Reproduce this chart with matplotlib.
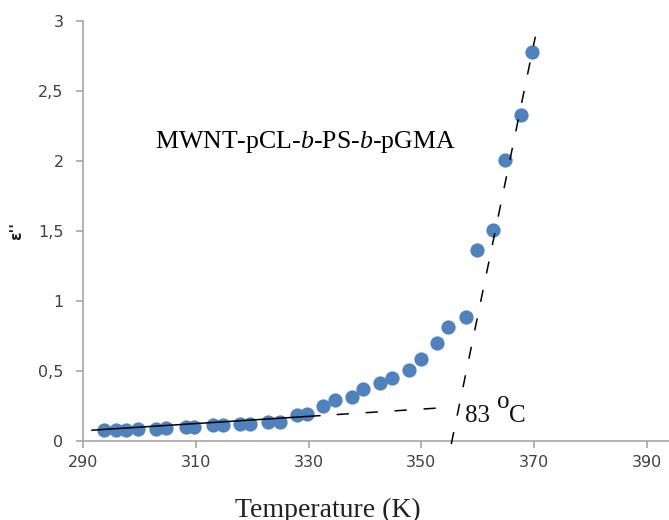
import matplotlib
matplotlib.use("Agg")
import matplotlib.pyplot as plt

plt.rcParams["mathtext.fontset"] = "custom"
plt.rcParams["mathtext.rm"] = "Liberation Serif"
plt.rcParams["mathtext.it"] = "Liberation Serif:italic"

# Dielectric loss vs temperature
temperature = [293.7, 295.8, 297.6, 299.7, 302.9, 304.7, 308.3, 309.7, 313.1, 314.8,
               317.8, 319.6, 322.8, 324.9, 327.9, 329.7, 332.5, 334.7, 337.7, 339.7,
               342.7, 344.8, 347.8, 349.9, 352.7, 354.7, 357.9, 359.9, 362.7, 364.8,
               367.7, 369.6]
eps_loss = [0.076, 0.076, 0.076, 0.084, 0.087, 0.091, 0.098, 0.098, 0.112, 0.112,
            0.119, 0.119, 0.134, 0.137, 0.184, 0.192, 0.248, 0.290, 0.312, 0.369,
            0.412, 0.448, 0.505, 0.584, 0.698, 0.812, 0.884, 1.362, 1.505, 2.005,
            2.326, 2.776]

# Tangent lines (low-temperature baseline and high-temperature rise)
base_T = [291.6, 332.0, 355.5]
base_eps = [0.075, 0.179, 0.240]
rise_T = [355.3, 370.2]
rise_eps = [-0.024, 2.886]

x_ticks = [290, 310, 330, 350, 370, 390]
y_ticks = [0, 0.5, 1, 1.5, 2, 2.5, 3]
y_tick_labels = ["0", "0,5", "1", "1,5", "2", "2,5", "3"]

fig = plt.figure(figsize=(6.69, 5.20), dpi=100)
ax = fig.add_axes([0.124, 0.1525, 0.876, 0.8075])

ax.scatter(temperature, eps_loss, s=105, color="#4F81BD", zorder=2, linewidths=0)

ax.plot(base_T[:2], base_eps[:2], color="black", lw=1.1, zorder=3)
ax.plot(base_T[1:], base_eps[1:], color="black", lw=1.1,
        linestyle=(8.0, (8.0, 11.0)), zorder=3)
ax.plot(rise_T, rise_eps, color="black", lw=1.1, linestyle=(0, (8.0, 11.0)),
        zorder=3, clip_on=False)

ax.set_xlim(290, 393.9)
ax.set_ylim(0, 3)
ax.set_xticks(x_ticks)
ax.set_yticks(y_ticks)
ax.set_yticklabels(y_tick_labels)

for side in ("top", "right"):
    ax.spines[side].set_visible(False)
for side in ("left", "bottom"):
    ax.spines[side].set_color("#a6a6a6")
    ax.spines[side].set_linewidth(1.2)
ax.tick_params(axis="both", colors="#a6a6a6", length=5, width=1.2,
               labelcolor="#404040", labelsize=11.5)
ax.tick_params(axis="y", pad=9)
ax.tick_params(axis="x", pad=5)

ax.set_ylabel("ε''", fontsize=11, fontweight="bold", color="#202020")
ax.yaxis.set_label_coords(-0.100, 0.5)

fig.text(328 / 669, (520 - 498) / 520, "Temperature (K)",
         family="Liberation Serif", fontsize=20, color="#202020",
         va="top", ha="center")

fig.text(155 / 669, (520 - 142) / 520,
         r"MWNT-pCL-$\it{b}$-PS-$\it{b}$-pGMA",
         family="Liberation Serif", fontsize=18.6, color="black",
         va="center", ha="left")

# Transition temperature annotation: "83", raised "o", "C"
serif = dict(family="Liberation Serif", fontsize=18, color="#111111",
             va="baseline", ha="left")
fig.text(465 / 669, (520 - 422) / 520, "83", **serif)
fig.text(497 / 669, (520 - 408) / 520, "o", **serif)
fig.text(509 / 669, (520 - 422) / 520, "C", **serif)

fig.savefig("out.png", dpi=100)
